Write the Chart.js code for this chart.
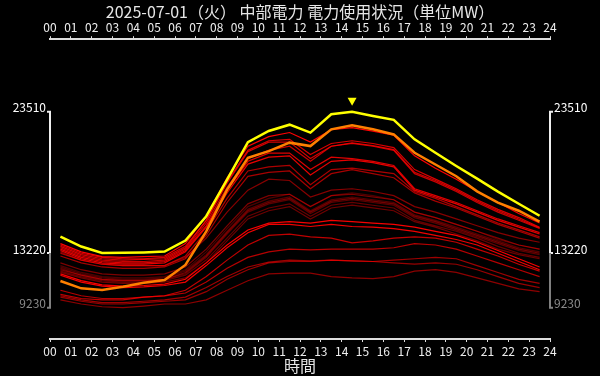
<!DOCTYPE html>
<html lang="ja">
<head>
<meta charset="UTF-8" />
<title>中部電力 電力使用状況</title>
<script src="https://cdn.jsdelivr.net/npm/chart.js@4"></script>
<style>
  html, body { margin: 0; padding: 0; background: #000; }
</style>
</head>
<body>
<canvas id="chart" width="600" height="376"></canvas>
<script>
// 時間帯（各時間の30分）
const halfHours = ['00:30','01:30','02:30','03:30','04:30','05:30','06:30','07:30','08:30','09:30','10:30','11:30',
  '12:30','13:30','14:30','15:30','16:30','17:30','18:30','19:30','20:30','21:30','22:30','23:30'];

// 当日（黄）と前日（橙）
const today = [14420, 13690, 13220, 13230, 13260, 13320, 14130, 15900, 18570, 21300, 22110, 22570,
  21990, 23330, 23510, 23200, 22920, 21500, 20520, 19560, 18640, 17690, 16810, 15930];
const yesterday = [11180, 10640, 10520, 10760, 11050, 11250, 12350, 14790, 17840, 20160, 20640, 21260,
  21010, 22230, 22520, 22230, 21860, 20520, 19670, 18810, 17710, 16890, 16300, 15500];

// 過去の日（古い順、赤）
const m1 = [12300, 11800, 11500, 11400, 11400, 11500, 12000, 13300, 15000, 16600, 17200, 17500, 16600, 17400, 17600, 17400, 17100, 16200, 15800, 15300, 14800, 14200, 13800, 13500];
const m2 = [12200, 11700, 11400, 11300, 11300, 11400, 11900, 13100, 14800, 16400, 17000, 17300, 16300, 17100, 17300, 17100, 16900, 16000, 15600, 15100, 14600, 14100, 13600, 13300];
const m3 = [12100, 11600, 11300, 11200, 11200, 11300, 11700, 12900, 14600, 16200, 16800, 17100, 16100, 16900, 17100, 16900, 16700, 15800, 15400, 14900, 14400, 13900, 13400, 13100];
const m4 = [11900, 11500, 11200, 11100, 11100, 11200, 11600, 12700, 14300, 15900, 16500, 16800, 15900, 16700, 16900, 16700, 16500, 15600, 15200, 14800, 14300, 13700, 13200, 12900];
const m5 = [11800, 11400, 11100, 11000, 11000, 11100, 11400, 12500, 14100, 15700, 16300, 16600, 15700, 16500, 16700, 16500, 16300, 15500, 15100, 14600, 14100, 13500, 13100, 12800];
const m6 = [12000, 11600, 11300, 11200, 11200, 11300, 11800, 13000, 14700, 16300, 16900, 17200, 16200, 17000, 17200, 17000, 16800, 15900, 15500, 15000, 14500, 14000, 13500, 13200];
const m7 = [12500, 12000, 11700, 11600, 11600, 11700, 12200, 13500, 15200, 16800, 17400, 17500, 16600, 17400, 17500, 17300, 17100, 16200, 15800, 15300, 14800, 14300, 13800, 13500];
const m0 = [13300, 12700, 12400, 12300, 12300, 12300, 12900, 14300, 16200, 17800, 18600, 18500, 17300, 17800, 17900, 17700, 17400, 16600, 16200, 15700, 15200, 14700, 14300, 14000];
const l5 = [9800, 9500, 9300, 9230, 9350, 9500, 9500, 9800, 10500, 11200, 11700, 11750, 11750, 11500, 11400, 11350, 11500, 11900, 12000, 11800, 11400, 11000, 10600, 10400];
const l4 = [10000, 9700, 9500, 9500, 9600, 9700, 9800, 10400, 11300, 12000, 12500, 12600, 12600, 12700, 12650, 12600, 12500, 12400, 12500, 12400, 12000, 11500, 11000, 10700];
const l7 = [10100, 9800, 9600, 9600, 9700, 9800, 10000, 10700, 11500, 12200, 12550, 12700, 12650, 12700, 12650, 12600, 12700, 12800, 12900, 12800, 12300, 11800, 11300, 11000];
const r6 = [13000, 12500, 12200, 12100, 12100, 12200, 12800, 14500, 16900, 18800, 19100, 19200, 17900, 19000, 19300, 19000, 18700, 17600, 17000, 16500, 15900, 15300, 14800, 14300];
const r5 = [13200, 12700, 12400, 12300, 12300, 12300, 13000, 14800, 17200, 19200, 19500, 19600, 18200, 19300, 19400, 19200, 19000, 17700, 17200, 16600, 16000, 15400, 14900, 14400];
const l6 = [10500, 10100, 9900, 9900, 10000, 10100, 10300, 11100, 12100, 12900, 13300, 13500, 13450, 13500, 13500, 13500, 13600, 13900, 13800, 13500, 13000, 12500, 12000, 11500];
const l3 = [10200, 9900, 9800, 9800, 10000, 10100, 10500, 11500, 12700, 13800, 14500, 14600, 14400, 14300, 13950, 14100, 14300, 14400, 14300, 14000, 13500, 13000, 12400, 11900];
const r3 = [13600, 13000, 12700, 12600, 12600, 12700, 13500, 15400, 18000, 20100, 20700, 21000, 19900, 21000, 21200, 21000, 20700, 19000, 18400, 17700, 16900, 16200, 15600, 15000];
const r7 = [13800, 13200, 12900, 12800, 12800, 12900, 13700, 15600, 18300, 20600, 21300, 21300, 20100, 21000, 21250, 21050, 20750, 19100, 18500, 17800, 17000, 16300, 15700, 15050];
const r2 = [13700, 13100, 12800, 12700, 12750, 12800, 13600, 15600, 18400, 20700, 21400, 21500, 20400, 21200, 21400, 21200, 20900, 19300, 18600, 17900, 17100, 16400, 15800, 15100];
const r8 = [13500, 12900, 12600, 12500, 12500, 12600, 13400, 15200, 17800, 19900, 20500, 20500, 19300, 20200, 20100, 19900, 19600, 17900, 17400, 16900, 16300, 15700, 15200, 14700];
const r4 = [13400, 12800, 12500, 12400, 12400, 12500, 13300, 15100, 17600, 19700, 20200, 20300, 18900, 19900, 20000, 19800, 19500, 17800, 17300, 16800, 16200, 15600, 15100, 14600];
const l2 = [11600, 11100, 10800, 10700, 10750, 10850, 11100, 12300, 13600, 14700, 15300, 15300, 15150, 15300, 15150, 15100, 15000, 14800, 14500, 14200, 13800, 13200, 12600, 12000];
const l1 = [11700, 11200, 10900, 10800, 10850, 10950, 11300, 12500, 13800, 14900, 15400, 15500, 15400, 15600, 15500, 15400, 15300, 15100, 14800, 14500, 14000, 13400, 12800, 12200];
const r1 = [13900, 13300, 12950, 12900, 12950, 13000, 13900, 15900, 18700, 21000, 21700, 22000, 21300, 22200, 22350, 22100, 21800, 20300, 19400, 18600, 17700, 16900, 16100, 15400];

const pastDays = [m1, m2, m3, m4, m5, m6, m7, m0, l5, l4, l7, r6, r5, l6, l3, r3, r7, r2, r8, r4, l2, l1, r1];

// 縦軸の目盛り：全体の最小、当日の最小・最大
const allMin = Math.min(...today, ...yesterday, ...pastDays.flat());
const dayMin = Math.min(...today);
const dayMax = Math.max(...today);
const yMin = 6950, yMax = 28800;

const FONT = "'Noto Sans CJK JP', 'Noto Sans', sans-serif";

function toPoints(values) {
  return values.map((v, i) => ({ x: parseInt(halfHours[i]) + 0.5, y: v }));
}

const datasets = [
  { label: '当日', data: toPoints(today), borderColor: '#ffff00', borderWidth: 2.5 },
  { label: '前日', data: toPoints(yesterday), borderColor: '#ff8000', borderWidth: 2.5 }
];
pastDays.forEach((vals, i) => {
  const a = 0.3 + 0.7 * i / (pastDays.length - 1);
  datasets.push({ label: 'past' + i, data: toPoints(vals), borderColor: `rgba(255,0,0,${a.toFixed(2)})`, borderWidth: 1.2 });
});

// 縦軸の括弧線と最大値マーカー
const bracketPlugin = {
  id: 'bracket',
  afterDraw(chart) {
    const { ctx, chartArea } = chart;
    const y = chart.scales.y;
    const top = y.getPixelForValue(dayMax), mid = y.getPixelForValue(dayMin), bot = y.getPixelForValue(allMin);
    [[chartArea.left, -1], [chartArea.right, 1]].forEach(([x, dir]) => {
      ctx.save();
      ctx.lineWidth = 2;
      ctx.strokeStyle = '#eeeeee';
      ctx.beginPath();
      ctx.moveTo(x + dir * 3, top); ctx.lineTo(x, top); ctx.lineTo(x, mid); ctx.lineTo(x + dir * 3, mid);
      ctx.stroke();
      ctx.strokeStyle = '#808080';
      ctx.beginPath();
      ctx.moveTo(x, mid); ctx.lineTo(x, bot); ctx.lineTo(x + dir * 3, bot);
      ctx.stroke();
      ctx.restore();
    });
    const idx = today.indexOf(dayMax);
    const px = chart.scales.x.getPixelForValue(parseInt(halfHours[idx]) + 0.5);
    ctx.save();
    ctx.fillStyle = '#ffff00';
    ctx.beginPath();
    ctx.moveTo(px - 4.5, top - 14);
    ctx.lineTo(px + 4.5, top - 14);
    ctx.lineTo(px, top - 6);
    ctx.closePath();
    ctx.fill();
    ctx.restore();
  }
};

const xTicks = {
  stepSize: 1, autoSkip: false, maxRotation: 0, color: '#eeeeee', padding: 2,
  font: { family: FONT, size: 12 },
  callback: v => String(v).padStart(2, '0')
};
const yCommon = {
  min: yMin, max: yMax,
  grid: { display: false, drawTicks: false },
  border: { display: false },
  afterBuildTicks: s => { s.ticks = [allMin, dayMin, dayMax].map(v => ({ value: v })); },
  ticks: {
    padding: 4,
    labelOffset: -4,
    font: { family: FONT, size: 12 },
    color: c => (c.tick && c.tick.value === allMin ? '#8a8a8a' : '#ffffff'),
    callback: v => String(v)
  },
  afterFit: s => { s.width = 50; }
};

new Chart(document.getElementById('chart'), {
  type: 'line',
  data: { datasets },
  options: {
    responsive: false,
    animation: false,
    layout: { padding: 0 },
    elements: { point: { radius: 0 }, line: { tension: 0 } },
    plugins: {
      legend: { display: false },
      tooltip: { enabled: false },
      title: {
        display: true,
        text: '2025-07-01（火） 中部電力 電力使用状況（単位MW）',
        color: '#e6e6e6',
        font: { family: FONT, size: 16, weight: 'normal' },
        padding: { top: 2, bottom: 0 }
      }
    },
    scales: {
      x: {
        type: 'linear', position: 'bottom', min: 0, max: 24,
        grid: { drawOnChartArea: false, color: '#dddddd', tickLength: 3 },
        border: { color: '#dddddd', width: 2 },
        ticks: xTicks,
        title: { display: true, text: '時間', color: '#e6e6e6', font: { family: FONT, size: 16 }, padding: 0 },
        afterFit: s => { s.height = 37; }
      },
      x2: {
        type: 'linear', position: 'top', min: 0, max: 24,
        grid: { drawOnChartArea: false, color: '#dddddd', tickLength: 3 },
        border: { color: '#dddddd', width: 2 },
        ticks: xTicks,
        afterFit: s => { s.height = 18; }
      },
      y: Object.assign({ position: 'left' }, yCommon),
      yR: Object.assign({ position: 'right' }, yCommon)
    }
  },
  plugins: [bracketPlugin]
});
</script>
</body>
</html>
